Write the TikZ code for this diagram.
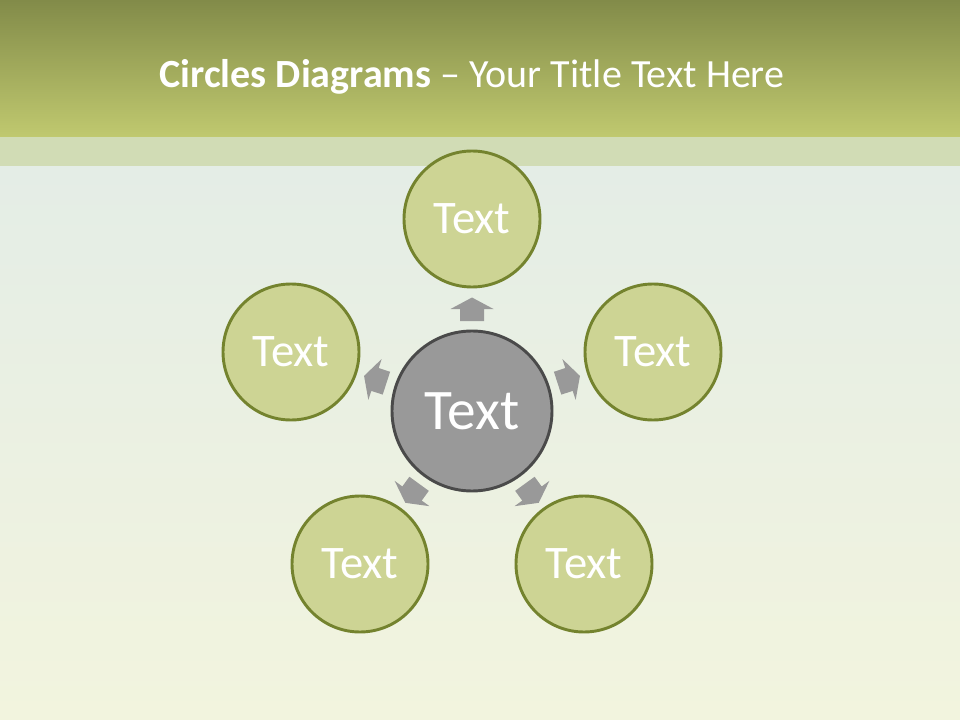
\documentclass[tikz,border=0pt]{standalone}
\usepackage{fontspec}
\setmainfont{Carlito}
\definecolor{hdtop}{HTML}{828B49}
\definecolor{hdbot}{HTML}{C0C96F}
\definecolor{band}{HTML}{D1DCB5}
\definecolor{bgtop}{HTML}{E4EDE6}
\definecolor{bgbot}{HTML}{F2F4DE}
\definecolor{outfill}{HTML}{CDD494}
\definecolor{outline}{HTML}{74832E}
\definecolor{cfill}{HTML}{999999}
\definecolor{cline}{HTML}{4A4A4A}
\definecolor{arrowc}{HTML}{999999}
\tikzset{
  outer/.style={circle,fill=outfill,draw=outline,line width=2.2pt,minimum size=102pt,inner sep=0pt,text=white,font=\fontsize{35}{40}\selectfont},
  center/.style={circle,fill=cfill,draw=cline,line width=2.2pt,minimum size=120pt,inner sep=0pt,text=white,font=\fontsize{43}{48}\selectfont},
  blockarrow/.style={fill=arrowc,draw=none}
}
\begin{document}
\begin{tikzpicture}[x=0.75pt,y=-0.75pt]
\useasboundingbox (0,0) rectangle (960,720);
% background
\shade[top color=bgtop,bottom color=bgbot] (0,165) rectangle (960,720);
\fill[band] (0,136) rectangle (960,166);
\shade[top color=hdtop,bottom color=hdbot] (0,0) rectangle (960,137);
\node[text=white,font=\fontsize{30}{36}\selectfont] (title) at (472,77) {\textbf{Circles Diagrams} -- Your Title Text Here};
% circles
\node[center] (c) at (472,411) {Text};
\node[outer] (n1) at (472,219) {Text};
\node[outer] (n2) at (653,352) {Text};
\node[outer] (n3) at (584,564) {Text};
\node[outer] (n4) at (360,564) {Text};
\node[outer] (n5) at (291,352) {Text};
% block arrows
\foreach \a in {90,18,-54,-126,162}{
  \begin{scope}[shift={(c.center)},rotate=-\a+90]
    \fill[blockarrow] (-12,-90) -- (-12,-102) -- (-21.5,-102) -- (0,-113.5) -- (21.5,-102) -- (12,-102) -- (12,-90) -- cycle;
  \end{scope}
}
\end{tikzpicture}
\end{document}
